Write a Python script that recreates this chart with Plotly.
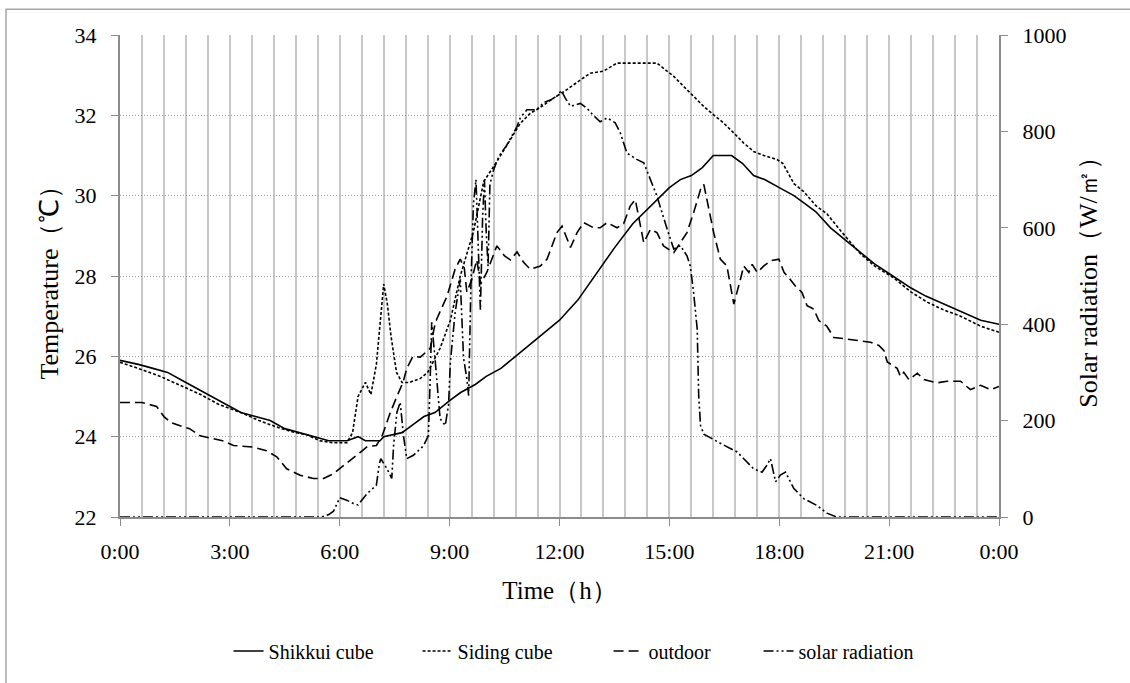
import plotly.graph_objects as go

# ---------------- data (hours, values) ----------------
shikkui_t = [0, 0.5, 0.9, 1.3, 1.7, 2.1, 2.5, 2.9, 3.3, 3.7, 4.1, 4.5, 4.9, 5.3, 5.7, 6.2, 6.5, 6.7,
             7.1, 7.2, 7.7, 8.0, 8.3, 8.6, 9.0, 9.3, 9.7, 10.0, 10.4, 10.8, 11.2, 11.6, 12.0, 12.5,
             13.0, 13.5, 14.0, 14.66, 15.0, 15.3, 15.6, 15.9, 16.2, 16.7, 17.0, 17.3, 17.6, 18.0,
             18.4, 18.7, 19.0, 19.4, 19.8, 20.2, 20.6, 21.1, 21.6, 22.0, 22.5, 23.0, 23.5, 24.0]
shikkui_v = [25.9, 25.8, 25.7, 25.6, 25.4, 25.2, 25.0, 24.8, 24.6, 24.5, 24.4, 24.2, 24.1, 24.0, 23.9, 23.9, 24.0, 23.9,
             23.9, 24.0, 24.1, 24.3, 24.5, 24.6, 24.9, 25.1, 25.3, 25.5, 25.7, 26.0, 26.3, 26.6, 26.9, 27.4,
             28.05, 28.7, 29.3, 29.9, 30.2, 30.4, 30.5, 30.7, 31.0, 31.0, 30.8, 30.5, 30.4, 30.2,
             30.0, 29.8, 29.6, 29.2, 28.9, 28.6, 28.3, 28.0, 27.7, 27.5, 27.3, 27.1, 26.9, 26.8]

siding_t = [0, 0.5, 1.1, 1.6, 2.2, 2.7, 3.3, 3.8, 4.4, 4.8, 5.1, 5.45, 5.8, 6.2, 6.35, 6.5, 6.7, 6.85,
            7.0, 7.1, 7.2, 7.3, 7.4, 7.55, 7.7, 7.9, 8.2, 8.4, 8.74, 9.02, 9.29, 9.65, 9.93, 10.29,
            10.66, 10.93, 11.2, 11.48, 11.84, 12.2, 12.57, 12.84, 13.2, 13.57, 14.66, 14.94, 15.12,
            15.39, 15.66, 15.94, 16.21, 16.48, 16.76, 17.03, 17.3, 17.58, 17.94, 18.1, 18.4, 18.67,
            19.0, 19.3, 19.7, 20.22, 20.6, 21.13, 21.6, 22.04, 22.5, 22.95, 23.5, 24.0]
siding_v = [25.85, 25.7, 25.5, 25.3, 25.05, 24.8, 24.6, 24.4, 24.2, 24.1, 24.05, 23.9, 23.85, 23.85, 24.1, 25.0, 25.35, 25.05,
            25.8, 26.8, 27.8, 27.3, 26.5, 25.6, 25.35, 25.35, 25.45, 25.6, 26.2, 26.9, 28.0, 29.1, 30.35, 30.85,
            31.4, 31.8, 32.05, 32.2, 32.43, 32.64, 32.88, 33.05, 33.1, 33.3, 33.3, 33.1, 32.97,
            32.72, 32.47, 32.22, 32.01, 31.81, 31.56, 31.31, 31.1, 31.0, 30.9, 30.8, 30.3, 30.1,
            29.75, 29.55, 29.1, 28.55, 28.25, 27.95, 27.6, 27.35, 27.15, 27.0, 26.75, 26.6]

outdoor_t = [0, 0.6, 0.8, 1.0, 1.2, 1.4, 1.64, 1.9, 2.19, 2.5, 2.8, 3.1, 3.64, 4.0, 4.28, 4.55, 4.92,
             5.28, 5.56, 5.83, 6.19, 6.56, 6.75, 7.0, 7.15, 7.38, 7.56, 7.73, 7.83, 8.0, 8.2, 8.35,
             8.47, 8.6, 8.65, 8.93, 9.15, 9.29, 9.4, 9.47, 9.6, 9.74, 9.85, 10.02, 10.29, 10.5,
             10.66, 10.84, 11.02, 11.2, 11.48, 11.66, 11.93, 12.07, 12.3, 12.48, 12.66, 12.93, 13.11,
             13.3, 13.57, 13.75, 13.93, 14.07, 14.2, 14.3, 14.48, 14.66, 14.84, 15.12, 15.3, 15.48,
             15.66, 15.85, 15.94, 16.03, 16.21, 16.39, 16.57, 16.76, 16.85, 16.94, 17.03, 17.17,
             17.26, 17.4, 17.58, 17.76, 17.99, 18.13, 18.26, 18.44, 18.62, 18.76, 18.94, 19.08,
             19.3, 19.49, 19.85, 20.13, 20.49, 20.72, 20.86, 20.95, 21.22, 21.31, 21.4, 21.54,
             21.77, 21.95, 22.31, 22.58, 22.95, 23.22, 23.5, 23.77, 24.0]
outdoor_v = [24.85, 24.85, 24.8, 24.75, 24.5, 24.35, 24.27, 24.2, 24.02, 23.95, 23.9, 23.78, 23.74, 23.65, 23.5, 23.2, 23.04,
             22.96, 22.96, 23.08, 23.33, 23.61, 23.75, 23.78, 24.0, 24.6, 25.0, 25.36, 25.7, 26.0, 25.98, 26.1,
             26.2, 26.8, 26.93, 27.5, 28.17, 28.42, 28.2, 27.6, 27.9, 28.4, 27.8, 28.1, 28.75, 28.5,
             28.4, 28.6, 28.34, 28.17, 28.25, 28.42, 29.08, 29.24, 28.71, 29.08, 29.33, 29.2, 29.2,
             29.33, 29.2, 29.3, 29.74, 29.9, 29.33, 28.83, 29.16, 29.08, 28.75, 28.58, 28.83, 29.08,
             29.57, 30.15, 30.28, 29.9, 29.08, 28.42, 28.25, 27.3, 27.59, 27.92, 28.25, 28.09,
             28.29, 28.09, 28.25, 28.38, 28.42, 28.09, 27.96, 27.75, 27.59, 27.26, 27.18, 26.89,
             26.75, 26.47, 26.43, 26.39, 26.35, 26.27, 26.14, 25.86, 25.7, 25.5, 25.6, 25.42,
             25.58, 25.42, 25.34, 25.38, 25.38, 25.17, 25.28, 25.17, 25.25]

solar_t = [0, 5.5, 5.7, 5.83, 6.0, 6.19, 6.37, 6.5, 6.74, 7.0, 7.08, 7.12, 7.29, 7.42, 7.47, 7.56, 7.65,
           7.74, 7.83, 8.01, 8.29, 8.42, 8.47, 8.51, 8.6, 8.74, 8.88, 8.97, 9.02, 9.15, 9.29, 9.38,
           9.47, 9.52, 9.58, 9.65, 9.72, 9.78, 9.84, 9.9, 9.95, 10.0, 10.05, 10.1, 10.2, 10.3, 10.4,
           10.55, 10.66, 10.84, 10.93, 11.11, 11.38, 11.57, 11.75, 11.93, 12.05, 12.15, 12.3, 12.57,
           12.75, 12.9, 13.11, 13.3, 13.52, 13.66, 13.84, 14.11, 14.3, 14.48, 14.66, 14.94, 15.03,
           15.12, 15.3, 15.48, 15.57, 15.66, 15.76, 15.8, 15.85, 15.94, 16.39, 16.85, 17.3, 17.53,
           17.67, 17.76, 17.9, 18.03, 18.17, 18.4, 18.67, 19.03, 19.3, 19.57, 24.0]
solar_v = [0, 0, 5, 12, 40, 35, 28, 25, 48, 66, 110, 121, 100, 80, 148, 217, 238,
           169, 121, 128, 148, 169, 287, 404, 330, 204, 190, 232, 321, 424, 493, 330,
           287, 252, 480, 650, 700, 560, 430, 620, 700, 590, 520, 690, 720, 740, 755,
           770, 785, 810, 828, 845, 845, 860, 865, 873, 885, 870, 852, 858,
           848, 835, 820, 828, 818, 797, 755, 742, 735, 700, 666, 597, 576,
           556, 563, 542, 521, 467, 390, 253, 190, 172, 153, 135, 100, 93,
           108, 121, 73, 87, 93, 59, 38, 24, 8, 0, 0]

tick_hours = [0, 3, 6, 9, 12, 15, 18, 21, 24]
tick_labels = ["0:00", "3:00", "6:00", "9:00", "12:00", "15:00", "18:00", "21:00", "0:00"]

# ---------------- figure ----------------
fig = go.Figure()
fig.add_trace(go.Scatter(x=shikkui_t, y=shikkui_v, name="Shikkui cube", mode="lines", legendwidth=144,
                         line=dict(color="black", width=1.6)))
fig.add_trace(go.Scatter(x=siding_t, y=siding_v, name="Siding cube", mode="lines", legendwidth=146,
                         line=dict(color="black", width=1.6, dash="3px,2px")))
fig.add_trace(go.Scatter(x=outdoor_t, y=outdoor_v, name="outdoor", mode="lines", legendwidth=105,
                         line=dict(color="black", width=1.6, dash="10px,5px")))
fig.add_trace(go.Scatter(x=solar_t, y=solar_v, name="solar radiation", mode="lines", yaxis="y2",
                         legendwidth=125,
                         line=dict(color="black", width=1.6, dash="10px,3px,2px,3px,2px,3px")))

axis_gray = "#8c8c8c"
serif = "Liberation Serif"

fig.update_layout(
    width=1130, height=683,
    margin=dict(l=120, r=131, t=35, b=163),
    plot_bgcolor="white", paper_bgcolor="white",
    font=dict(family=serif, size=22, color="black"),
    showlegend=True,
    xaxis=dict(range=[0, 24], tickmode="array", tickvals=tick_hours, ticktext=tick_labels,
               showgrid=True, gridcolor="#c8c8c8", gridwidth=2,
               minor=dict(tick0=0, dtick=0.6, showgrid=True, gridcolor="#c8c8c8", gridwidth=2, ticks=""),
               ticks="outside", ticklen=7, tickcolor=axis_gray, tickwidth=1, ticklabelstandoff=7,
               tickfont=dict(family=serif, size=22),
               showline=True, linecolor=axis_gray, linewidth=2, zeroline=False,
               title=dict(text="Time（h）", font=dict(family=serif, size=25), standoff=18)),
    yaxis=dict(range=[22, 34], tickmode="linear", tick0=22, dtick=2,
               showgrid=True, gridcolor="#a0a0a0", gridwidth=1, griddash="1px,2px",
               ticks="outside", ticklen=7, tickcolor=axis_gray, ticklabelstandoff=10,
               tickfont=dict(family=serif, size=22),
               showline=True, linecolor=axis_gray, linewidth=2, zeroline=False,
               title=dict(text="Temperature（℃）", font=dict(family=serif, size=26), standoff=8)),
    yaxis2=dict(range=[0, 1000], tickmode="linear", tick0=0, dtick=200, overlaying="y", side="right",
                showgrid=False, ticks="outside", ticklen=7, tickcolor=axis_gray, ticklabelstandoff=10,
                tickfont=dict(family=serif, size=22),
                showline=True, linecolor=axis_gray, linewidth=2, zeroline=False,
                title=dict(text="Solar radiation（W/㎡）", font=dict(family=serif, size=26), standoff=13)),
    legend=dict(orientation="h", x=0.1235, y=-0.278, xanchor="left", yanchor="middle",
                entrywidthmode="pixels",
                font=dict(family=serif, size=20), bgcolor="rgba(0,0,0,0)", itemwidth=30),
    shapes=[dict(type="rect", xref="paper", yref="paper",
                 x0=-0.1297, x1=1.16, y0=-0.40, y1=1.0536,
                 line=dict(color="#a6a6a6", width=1.5), fillcolor="rgba(0,0,0,0)", layer="below")],
)

fig.write_html("out.html")
